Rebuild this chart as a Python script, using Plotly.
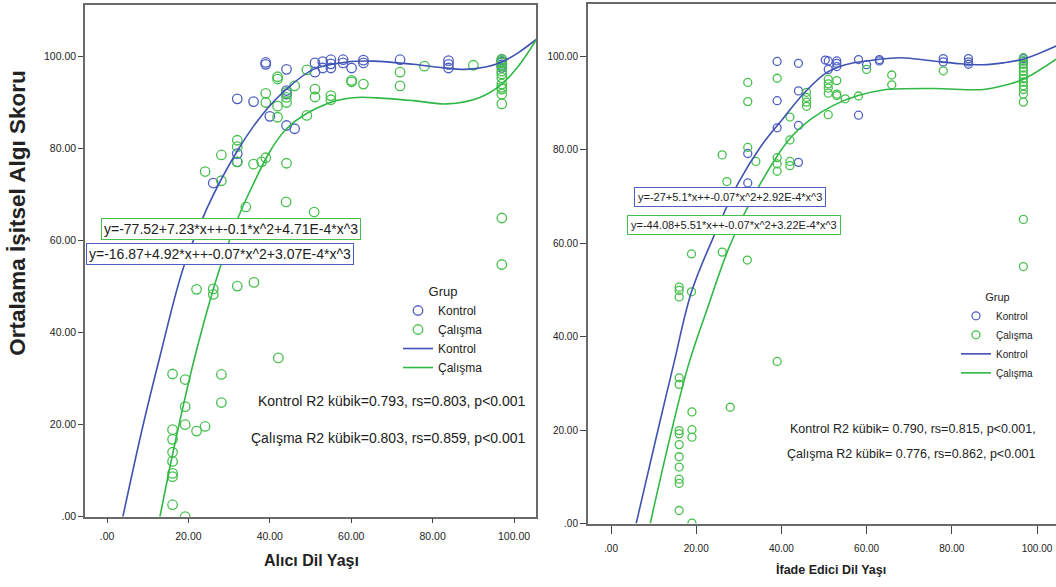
import plotly.graph_objects as go

W, H = 1056, 587
def px(x): return x / W
def py(y): return 1 - y / H

BLUE = "#4d5fc2"
GREEN = "#45c04c"
BLUE_LINE = "#3f53b2"
GREEN_LINE = "#2fb845"
REG = "Liberation Sans, Arial, sans-serif"
NARROW = "Liberation Sans Narrow, Arial Narrow, Liberation Sans, Arial, sans-serif"
TXT = "#222222"

# ---------------- Left panel (Alıcı Dil Yaşı) ----------------
left_kontrol_x = [26.1, 32.0, 32.0, 32.0, 36.0, 39.0, 39.0, 40.0, 44.1, 44.1, 44.1, 44.1, 46.1,
                  51.1, 51.1, 53.0, 53.0, 55.0, 55.0, 55.0, 58.0, 58.0, 60.1, 63.0, 63.0, 72.0,
                  83.9, 83.9, 83.9, 97.0, 97.0, 97.0, 97.0]
left_kontrol_y = [72.5, 90.8, 78.9, 77.1, 90.2, 98.3, 98.7, 87.0, 97.2, 91.8, 92.6, 85.0, 84.3,
                  98.6, 96.6, 98.9, 97.5, 99.3, 98.4, 97.5, 99.3, 98.6, 97.5, 99.2, 98.6, 99.3,
                  99.1, 98.3, 97.5, 99.3, 98.8, 98.2, 97.6]

left_calisma_x = [16.1, 16.1, 16.1, 16.1, 16.1, 16.1, 16.1, 16.1, 19.2, 19.2, 19.2, 19.2,
                  22.0, 22.0, 24.1, 24.1, 26.1, 26.1, 28.1, 28.1, 28.1, 28.1, 32.0, 32.0, 32.0,
                  32.0, 34.1, 36.0, 36.1, 38.0, 39.0, 39.0, 39.0, 41.9, 41.9, 41.9, 41.9, 42.1,
                  44.0, 44.1, 44.1, 44.1, 44.1, 46.1, 49.1, 49.1, 50.9, 51.1, 51.1, 55.0, 55.0,
                  60.1, 60.1, 63.0, 72.0, 72.0, 78.0, 90.0,
                  97.0, 97.0, 97.0, 97.0, 97.0, 97.0, 97.0, 97.0, 97.0, 97.0, 97.0, 97.0, 97.0, 97.0]
left_calisma_y = [31.0, 18.9, 16.8, 14.0, 12.0, 9.4, 8.7, 2.6, 29.8, 23.9, 20.0, 0.0,
                  49.4, 18.6, 19.6, 75.0, 49.5, 48.3, 78.6, 73.0, 30.9, 24.8, 81.8, 80.4, 77.1,
                  50.1, 67.3, 76.6, 50.9, 77.1, 78.0, 92.0, 90.0, 95.6, 95.1, 89.2, 86.8, 34.5,
                  68.4, 92.2, 91.1, 90.0, 76.8, 93.6, 97.1, 87.2, 66.2, 92.9, 91.2, 91.5, 90.6,
                  94.8, 94.5, 94.0, 96.6, 93.6, 97.9, 98.1,
                  99.4, 98.6, 97.9, 96.8, 95.4, 94.0, 93.3, 92.9, 91.8, 89.7, 99.0, 96.2, 64.9, 54.8]

# cubic fit curves
left_kontrol_fit_x = [3.9, 8.5, 13.0, 18.8, 24.6, 31.9, 38.0, 44.1, 50.7, 58.9, 65.4, 75.3, 82.0, 88.0, 93.0, 97.0, 101.0, 105.6]
left_kontrol_fit_y = [0.0, 18.5, 34.8, 54.2, 67.1, 79.3, 87.2, 92.9, 97.2, 98.8, 99.0, 98.3, 97.6, 97.2, 97.7, 98.8, 100.8, 103.8]
left_calisma_fit_x = [13.0, 17.0, 21.6, 27.8, 34.3, 44.1, 54.8, 61.3, 68.0, 75.3, 83.5, 91.6, 97.0, 101.0, 105.6]
left_calisma_fit_y = [0.0, 17.2, 34.8, 54.2, 69.2, 84.3, 90.0, 91.1, 90.9, 90.4, 89.7, 91.1, 94.0, 97.8, 103.8]

# ---------------- Right panel (İfade Edici Dil Yaşı) ----------------
right_kontrol_x = [32.1, 32.1, 39.0, 39.0, 39.0, 44.0, 44.0, 44.0, 44.0, 50.3, 51.0, 51.0, 53.0,
                   53.0, 53.0, 58.1, 58.1, 60.0, 63.0, 63.0, 78.0, 78.0, 83.9, 83.9, 83.9,
                   96.8, 96.8, 96.8]
right_kontrol_y = [79.2, 72.9, 98.9, 90.5, 84.7, 98.5, 92.6, 85.2, 77.3, 99.2, 99.0, 97.2, 99.0,
                   98.5, 97.8, 99.3, 87.4, 98.2, 99.3, 99.0, 99.5, 98.8, 99.5, 98.8, 98.3,
                   99.5, 99.0, 98.4]

right_calisma_x = [16.0, 16.0, 16.0, 16.0, 16.0, 16.0, 16.0, 16.0, 16.0, 16.0, 16.0, 16.0, 16.0,
                   18.9, 18.9, 19.0, 19.0, 19.0, 19.0, 26.1, 26.1, 27.2, 28.0, 32.0, 32.1, 32.1,
                   32.1, 34.0, 39.0, 39.0, 39.0, 39.0, 39.0, 42.0, 42.0, 42.0, 42.0, 45.9, 45.9,
                   45.9, 45.9, 51.0, 51.0, 51.0, 51.0, 51.0, 53.0, 53.0, 53.0, 55.0, 58.1, 60.0,
                   65.9, 65.9, 78.0,
                   96.8, 96.8, 96.8, 96.8, 96.8, 96.8, 96.8, 96.8, 96.8, 96.8, 96.8, 96.8, 96.8, 96.8]
right_calisma_y = [50.6, 49.9, 48.5, 31.2, 29.8, 19.9, 19.2, 16.9, 14.3, 12.1, 9.5, 8.6, 2.8,
                   57.7, 49.6, 23.9, 20.1, 18.5, 0.1, 78.9, 58.1, 73.2, 24.9, 56.4, 94.4, 90.3,
                   80.5, 77.5, 95.3, 78.3, 77.0, 75.4, 34.7, 87.0, 82.1, 77.5, 76.6, 92.3, 91.2,
                   90.2, 89.3, 95.1, 94.1, 93.2, 92.1, 87.5, 94.8, 91.9, 91.6, 90.9, 91.5, 97.2,
                   96.0, 93.9, 96.9,
                   99.7, 99.0, 98.3, 97.5, 96.8, 96.0, 95.2, 94.5, 93.7, 92.9, 91.9, 90.2, 65.1, 55.0]

right_kontrol_fit_x = [5.9, 10.5, 14.6, 18.9, 24.0, 29.9, 35.0, 40.4, 45.5, 50.6, 55.0, 60.0, 67.8, 75.7, 82.0, 87.4, 92.0, 96.8, 104.5]
right_kontrol_fit_y = [0.0, 18.0, 33.7, 49.6, 61.2, 72.9, 80.5, 86.7, 92.3, 96.5, 98.2, 99.0, 99.7, 99.0, 98.4, 98.2, 98.6, 99.4, 102.2]
right_calisma_fit_x = [9.2, 13.6, 18.1, 22.5, 27.9, 34.6, 42.0, 47.0, 52.2, 58.0, 63.9, 75.7, 87.4, 92.0, 96.8, 104.5]
right_calisma_fit_y = [0.0, 17.5, 33.7, 45.7, 59.5, 72.0, 82.4, 86.6, 89.5, 91.6, 92.8, 93.1, 92.9, 93.7, 95.1, 99.4]

tick_vals = [0, 20, 40, 60, 80, 100]
tick_text = [".00", "20.00", "40.00", "60.00", "80.00", "100.00"]

fig = go.Figure()

def add_panel(xa, ya, kx, ky, cx, cy, kfx, kfy, cfx, cfy, legend, msize):
    fig.add_trace(go.Scatter(x=kx, y=ky, mode="markers", name="Kontrol", xaxis=xa, yaxis=ya,
                             legend=legend,
                             marker=dict(symbol="circle-open", size=msize, color=BLUE,
                                         line=dict(width=1.3, color=BLUE))))
    fig.add_trace(go.Scatter(x=cx, y=cy, mode="markers", name="Çalışma", xaxis=xa, yaxis=ya,
                             legend=legend,
                             marker=dict(symbol="circle-open", size=msize, color=GREEN,
                                         line=dict(width=1.3, color=GREEN))))
    fig.add_trace(go.Scatter(x=kfx, y=kfy, mode="lines", name="Kontrol", xaxis=xa, yaxis=ya,
                             legend=legend,
                             line=dict(color=BLUE_LINE, width=1.6, shape="spline", smoothing=1.0)))
    fig.add_trace(go.Scatter(x=cfx, y=cfy, mode="lines", name="Çalışma", xaxis=xa, yaxis=ya,
                             legend=legend,
                             line=dict(color=GREEN_LINE, width=1.6, shape="spline", smoothing=1.0)))

add_panel("x", "y", left_kontrol_x, left_kontrol_y, left_calisma_x, left_calisma_y,
          left_kontrol_fit_x, left_kontrol_fit_y, left_calisma_fit_x, left_calisma_fit_y, "legend", 9.5)
add_panel("x2", "y2", right_kontrol_x, right_kontrol_y, right_calisma_x, right_calisma_y,
          right_kontrol_fit_x, right_kontrol_fit_y, right_calisma_fit_x, right_calisma_fit_y, "legend2", 8)

axis_common = dict(showgrid=False, zeroline=False, showline=True, ticks="outside",
                   tickvals=tick_vals, ticktext=tick_text)

annotations = [
    # left equations
    dict(x=px(231), y=py(231), text="y=-77.52+7.23*x++-0.1*x^2+4.71E-4*x^3",
         font=dict(family=REG, size=14, color=TXT), bordercolor=GREEN, borderwidth=1, borderpad=2,
         bgcolor="white"),
    dict(x=px(220), y=py(257), text="y=-16.87+4.92*x++-0.07*x^2+3.07E-4*x^3",
         font=dict(family=REG, size=14, color=TXT), bordercolor=BLUE, borderwidth=1, borderpad=2,
         bgcolor="white"),
    # right equations
    dict(x=px(730), y=py(199), text="y=-27+5.1*x++-0.07*x^2+2.92E-4*x^3",
         font=dict(family=NARROW, size=11, color=TXT), bordercolor=BLUE, borderwidth=1, borderpad=3,
         bgcolor="white"),
    dict(x=px(734), y=py(227), text="y=-44.08+5.51*x++-0.07*x^2+3.22E-4*x^3",
         font=dict(family=NARROW, size=11, color=TXT), bordercolor=GREEN, borderwidth=1, borderpad=3,
         bgcolor="white"),
    # stats
    dict(x=px(528), y=py(405), xanchor="right", text="Kontrol R2 kübik=0.793, rs=0.803, p<0.001",
         font=dict(family=REG, size=14, color=TXT)),
    dict(x=px(528), y=py(443), xanchor="right", text="Çalışma R2 kübik=0.803, rs=0.859, p<0.001",
         font=dict(family=REG, size=14, color=TXT)),
    dict(x=px(1038), y=py(433), xanchor="right", text="Kontrol R2 kübik= 0.790, rs=0.815, p<0.001,",
         font=dict(family=NARROW, size=12.5, color=TXT)),
    dict(x=px(1037), y=py(459), xanchor="right", text="Çalışma R2 kübik= 0.776, rs=0.862, p<0.001",
         font=dict(family=NARROW, size=12.5, color=TXT)),
    # axis titles
    dict(x=px(18), y=py(215), text="<b>Ortalama İşitsel Algı Skoru</b>", textangle=-90,
         font=dict(family=REG, size=22.5, color=TXT)),
    dict(x=px(311), y=py(566), text="<b>Alıcı Dil Yaşı</b>",
         font=dict(family=REG, size=16, color=TXT)),
    dict(x=px(831), y=py(575), text="<b>İfade Edici Dil Yaşı</b>",
         font=dict(family=NARROW, size=12.5, color=TXT)),
]
for a in annotations:
    a.setdefault("xref", "paper")
    a.setdefault("yref", "paper")
    a.setdefault("showarrow", False)
    a.setdefault("xanchor", "center")
    a.setdefault("yanchor", "middle")

fig.update_layout(
    width=W, height=H, margin=dict(l=0, r=0, t=0, b=0),
    paper_bgcolor="white", plot_bgcolor="white",
    xaxis=dict(domain=[px(85), px(536)], range=[-5.41, 105.4], anchor="y", mirror=True,
               linecolor="#6a6a6a", linewidth=1.5, ticklen=5, tickcolor="#444", ticklabelstandoff=4,
               tickfont=dict(family=REG, size=10.5, color=TXT), **axis_common),
    yaxis=dict(domain=[py(522), py(5)], range=[0, 111.2], anchor="x", mirror=True,
               linecolor="#6a6a6a", linewidth=1.5, ticklen=5, tickcolor="#444",
               tickfont=dict(family=REG, size=10.5, color=TXT), **axis_common),
    xaxis2=dict(domain=[px(588), 1.0], range=[-5.4, 104.46], anchor="y2", mirror=True,
                linecolor="#6a6a6a", linewidth=2, ticklen=8, tickcolor="#444", ticklabelstandoff=6,
                tickfont=dict(family=NARROW, size=10, color=TXT), **axis_common),
    yaxis2=dict(domain=[py(529), py(4)], range=[0, 111.2], anchor="x2", mirror=False,
                linecolor="#6a6a6a", linewidth=2, ticklen=6, tickcolor="#444",
                tickfont=dict(family=NARROW, size=10, color=TXT), **axis_common),
    legend=dict(x=px(398), y=py(282), xanchor="left", yanchor="top",
                title=dict(text="Grup", side="top center", font=dict(family=REG, size=13, color=TXT)),
                font=dict(family=REG, size=12, color=TXT), bgcolor="rgba(0,0,0,0)",
                itemwidth=30, tracegroupgap=0),
    legend2=dict(x=px(956), y=py(290), xanchor="left", yanchor="top",
                 title=dict(text="Grup", side="top center", font=dict(family=NARROW, size=11, color=TXT)),
                 font=dict(family=NARROW, size=10, color=TXT), bgcolor="rgba(0,0,0,0)",
                 itemwidth=30, tracegroupgap=0),
    annotations=annotations,
    showlegend=True,
)

fig.write_html("out.html")
